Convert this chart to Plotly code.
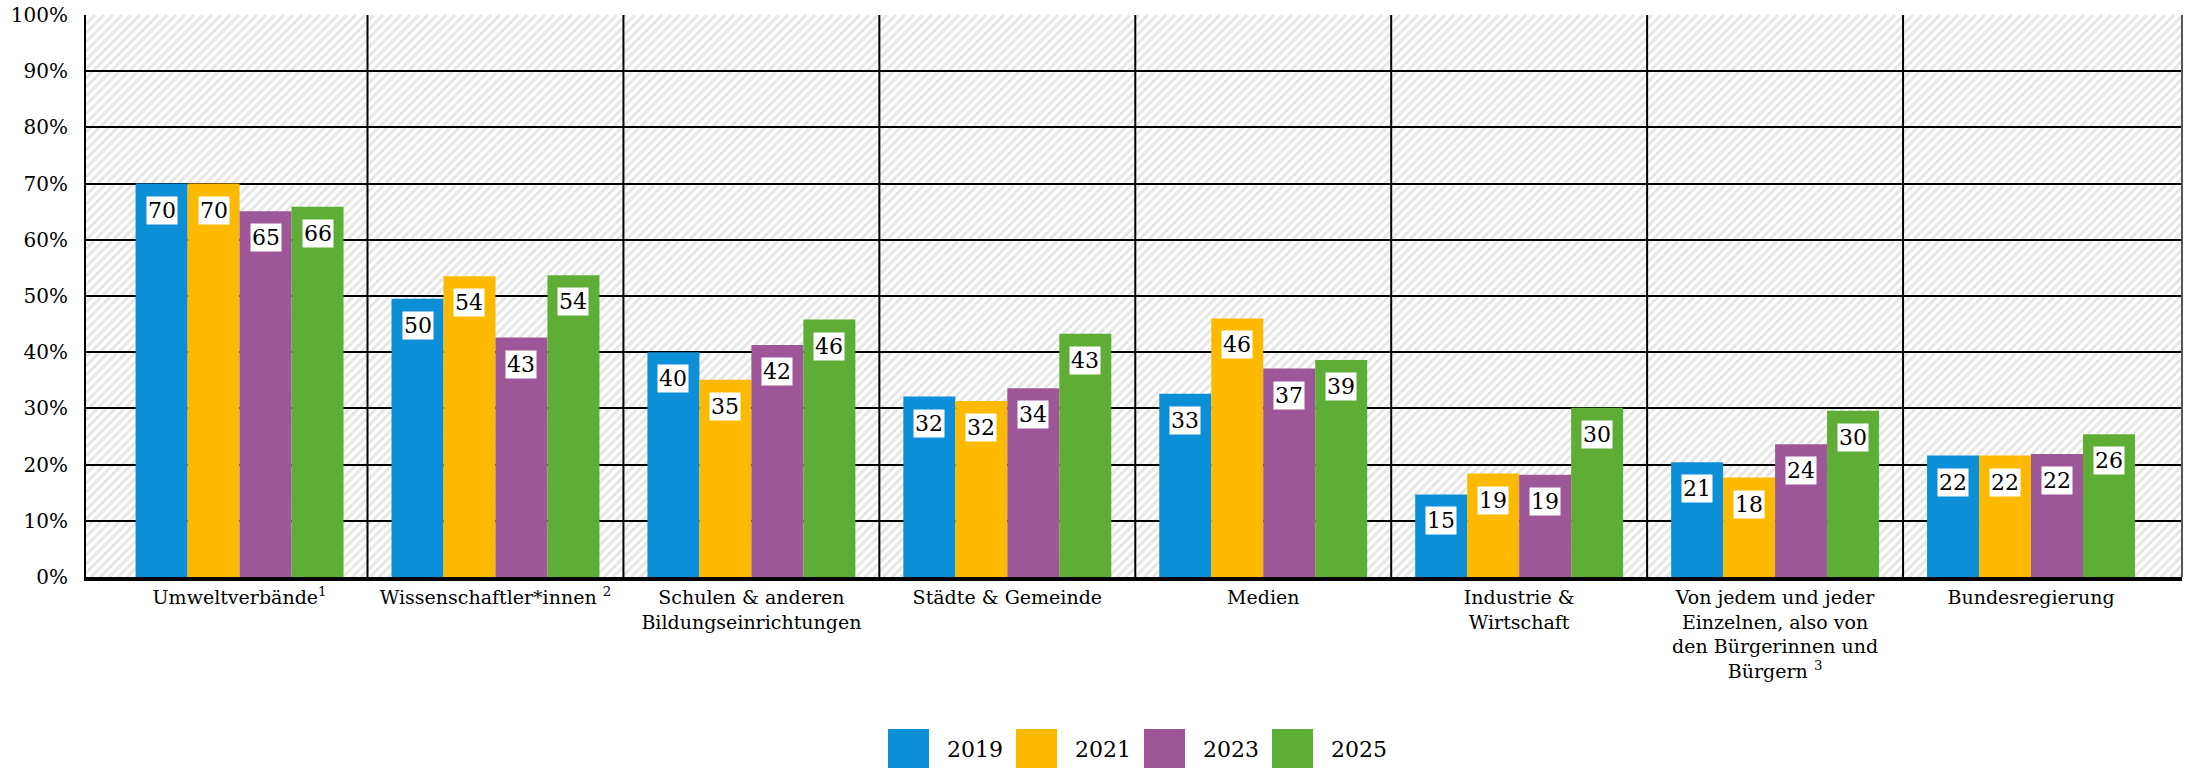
import plotly.graph_objects as go

# ---------------- data ----------------
categories = [
    "Umweltverbände<sup>1</sup>",
    "Wissenschaftler*innen <sup>2</sup>",
    "Schulen & anderen<br>Bildungseinrichtungen",
    "Städte & Gemeinde",
    "Medien",
    "Industrie &<br>Wirtschaft",
    "Von jedem und jeder<br>Einzelnen, also von<br>den Bürgerinnen und<br>Bürgern <sup>3</sup>",
    "Bundesregierung",
]
years = ["2019", "2021", "2023", "2025"]

values_2019 = [70.0, 49.5, 40.0, 32.1, 32.6, 14.7, 20.4, 21.6]
values_2021 = [70.0, 53.5, 35.1, 31.3, 46.0, 18.4, 17.7, 21.6]
values_2023 = [65.1, 42.6, 41.3, 33.6, 37.1, 18.2, 23.6, 21.9]
values_2025 = [65.9, 53.7, 45.8, 43.3, 38.6, 30.1, 29.6, 25.4]

labels_2019 = [70, 50, 40, 32, 33, 15, 21, 22]
labels_2021 = [70, 54, 35, 32, 46, 19, 18, 22]
labels_2023 = [65, 43, 42, 34, 37, 19, 24, 22]
labels_2025 = [66, 54, 46, 43, 39, 30, 30, 26]

y_ticks = [0, 10, 20, 30, 40, 50, 60, 70, 80, 90, 100]
y_ticktext = [f"{v}%" for v in y_ticks]

colors = ["#0C8FD6", "#FBBA00", "#9D5799", "#5EAD35"]
series_values = [values_2019, values_2021, values_2023, values_2025]
series_labels = [labels_2019, labels_2021, labels_2023, labels_2025]

# ---------------- layout geometry ----------------
W, H = 2185, 768
M_L, M_R, M_T, M_B = 86, 3, 15, 191
PW = W - M_L - M_R
PH = H - M_T - M_B
FONT = "DejaVu Serif"
BARGAP = 0.1875
n_series = len(years)
bar_w = (1 - BARGAP) / n_series

def px_x(px):
    return (px - M_L) / PW

def px_y(py):
    return (H - M_B - py) / PH

x_idx = list(range(len(categories)))

fig = go.Figure()
for s in range(n_series):
    fig.add_trace(go.Bar(
        x=x_idx, y=series_values[s], name=years[s],
        marker=dict(color=colors[s], line=dict(width=0)),
        showlegend=False, hoverinfo="skip",
    ))

# data labels (white boxes)
annotations = []
for s in range(n_series):
    off = (s - (n_series - 1) / 2) * bar_w
    for i in x_idx:
        annotations.append(dict(
            x=i + off, y=series_values[s][i], xref="x", yref="y",
            text=str(series_labels[s][i]), showarrow=False,
            yanchor="top", xanchor="center", yshift=-12,
            bgcolor="white", borderpad=1,
            font=dict(family=FONT, size=22, color="black"),
        ))

# legend drawn by hand (large square swatches)
shapes = []
leg_left, leg_pitch, sw = 888, 128, 41
for s in range(n_series):
    x0 = leg_left + s * leg_pitch
    shapes.append(dict(type="rect", xref="paper", yref="paper",
                       x0=px_x(x0), x1=px_x(x0 + sw), y0=px_y(729), y1=px_y(768),
                       fillcolor=colors[s], line=dict(width=0), layer="above"))
    annotations.append(dict(x=px_x(x0 + 57), y=px_y(749), xref="paper", yref="paper",
                            text=years[s], showarrow=False, xanchor="left", yanchor="middle",
                            font=dict(family=FONT, size=22, color="black")))

# diagonal hatch background (below gridlines)
step = 9.0
segs = []
u = -PH
while u < PW:
    t0 = max(0.0, -u)
    t1 = min(float(PH), PW - u)
    if t1 > t0:
        xa, ya = (u + t0) / PW, t0 / PH
        xb, yb = (u + t1) / PW, t1 / PH
        segs.append(f"M{xa:.5f},{ya:.5f}L{xb:.5f},{yb:.5f}")
    u += step
shapes.insert(0, dict(type="path", xref="x domain", yref="y domain", path="".join(segs),
                      line=dict(color="#E6E6E6", width=3), layer="below"))

# category separators
for i in x_idx[:-1]:
    shapes.append(dict(type="line", xref="x", yref="y domain", x0=i + 0.5, x1=i + 0.5,
                       y0=0, y1=1, line=dict(color="black", width=2), layer="below"))

# right border
shapes.append(dict(type="line", xref="paper", yref="paper", x0=1, x1=1, y0=0, y1=1,
                   line=dict(color="#555555", width=2), layer="above"))

fig.update_layout(
    width=W, height=H,
    margin=dict(l=M_L, r=M_R, t=M_T, b=M_B, pad=0, autoexpand=False),
    barmode="group", bargap=BARGAP, bargroupgap=0,
    plot_bgcolor="white", paper_bgcolor="white",
    font=dict(family=FONT, size=19, color="black"),
    showlegend=False,
    shapes=shapes, annotations=annotations,
    xaxis=dict(
        range=[-0.6, 7.59], tickmode="array", tickvals=x_idx, ticktext=categories,
        showgrid=False, zeroline=False, showline=True, linecolor="black", linewidth=4,
        ticks="", automargin=False, tickfont=dict(family=FONT, size=19, color="black"),
        fixedrange=True,
    ),
    yaxis=dict(
        range=[0, 100], tickmode="array", tickvals=y_ticks, ticktext=y_ticktext,
        showgrid=True, gridcolor="black", gridwidth=2, zeroline=False,
        showline=True, linecolor="black", linewidth=2, ticks="",
        ticklabelstandoff=12, automargin=False, ticklabeloverflow="allow",
        tickfont=dict(family=FONT, size=20, color="black"),
        fixedrange=True,
    ),
)

# remove the browser's default 8px body margin so the figure fills the window exactly
fig.write_html(
    "out.html",
    config={"displayModeBar": False, "staticPlot": True},
    post_script="document.body.style.margin='0px';document.body.style.overflow='hidden';",
)
